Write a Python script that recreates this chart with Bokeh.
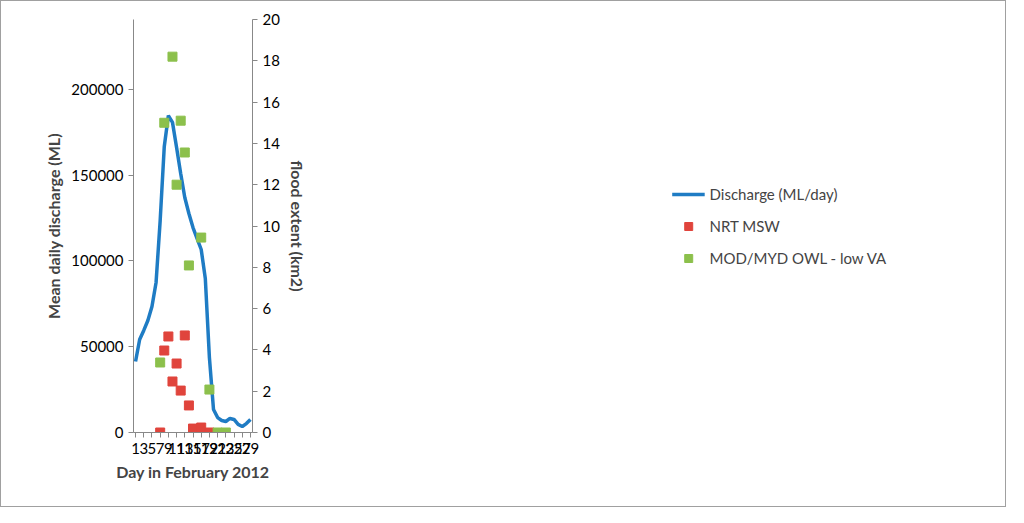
from bokeh.plotting import figure
from bokeh.models import LinearAxis, Range1d, Legend, LegendItem, FixedTicker
from bokeh.embed import file_html
from bokeh.resources import INLINE

days = list(range(1, 30))
discharge = [41400, 54200, 59500, 65300, 73500, 87500, 123600, 166800, 184800, 180800,
             166200, 151000, 137000, 127700, 119500, 113100, 106700, 89800, 43700, 13400,
             8700, 7000, 6400, 8200, 7600, 4700, 3500, 5200, 7600]
nrt_days = [7, 8, 9, 10, 11, 12, 13, 14, 15, 17, 19]
nrt_vals = [0, 3.97, 4.65, 2.47, 3.34, 2.03, 4.7, 1.31, 0.19, 0.24, 0]
mod_days = [7, 8, 10, 11, 12, 13, 14, 17, 19, 21, 23]
mod_vals = [3.39, 15.0, 18.2, 12.0, 15.1, 13.56, 8.09, 9.44, 2.08, 0, 0]

FONT = "Lato"
p = figure(width=1006, height=507, output_backend="svg", toolbar_location=None,
           x_range=Range1d(0.5, 29.5), y_range=Range1d(0, 240800),
           min_border_left=132, min_border_right=340, min_border_top=18, min_border_bottom=76)
p.styles = {"border": "1px solid #a0a0a0"}
p.grid.visible = False
p.outline_line_color = None
p.extra_y_ranges = {"flood": Range1d(0, 20)}

l1 = p.line(days, discharge, line_color="#1f7cc4", line_width=3.5)
r2 = p.scatter(nrt_days, nrt_vals, y_range_name="flood", marker="square", size=9,
               fill_color="#e0443c", line_color="#e0443c")
r3 = p.scatter(mod_days, mod_vals, y_range_name="flood", marker="square", size=9,
               fill_color="#8cc04c", line_color="#8cc04c")

ax2 = LinearAxis(y_range_name="flood", axis_label="flood extent (km2)",
                 ticker=FixedTicker(ticks=list(range(0, 21, 2))))
p.add_layout(ax2, "right")
p.yaxis[0].ticker = FixedTicker(ticks=[0, 50000, 100000, 150000, 200000])
p.yaxis[0].axis_label = "Mean daily discharge (ML)"
p.yaxis[0].formatter.use_scientific = False
p.xaxis.ticker = FixedTicker(ticks=list(range(1, 30, 2)))
p.xaxis.axis_label = "Day in February 2012"
for ax in p.xaxis + p.yaxis:
    ax.major_label_text_font = FONT
    ax.major_label_text_font_size = "15px"
    ax.major_label_text_color = "#000000"
    ax.axis_label_text_font = FONT
    ax.axis_label_text_font_size = "16px"
    ax.axis_label_text_font_style = "bold"
    ax.axis_line_color = "#888888"
    ax.major_tick_line_color = "#888888"
    ax.minor_tick_line_color = None
    ax.major_tick_in = 0
    ax.major_tick_out = 5

legend = Legend(items=[LegendItem(label="Discharge (ML/day)", renderers=[l1]),
                       LegendItem(label="NRT MSW", renderers=[r2]),
                       LegendItem(label="MOD/MYD OWL - low VA", renderers=[r3])],
                location="center", border_line_color=None, background_fill_alpha=0,
                label_text_font=FONT, label_text_font_size="15px", spacing=12,
                glyph_width=33, margin=8)
p.add_layout(legend, "right")

open("out.html", "w").write(file_html(p, INLINE))
